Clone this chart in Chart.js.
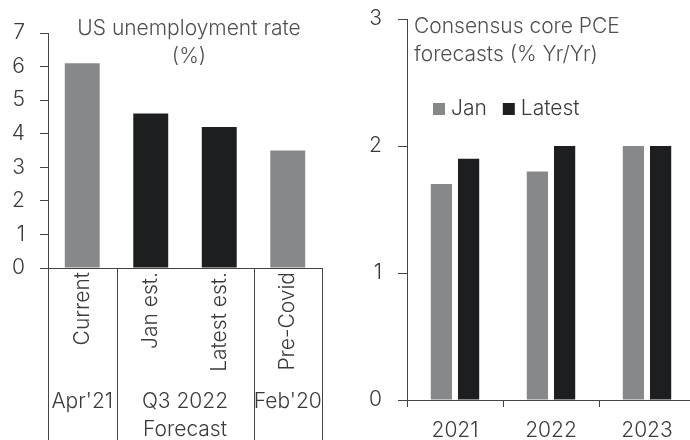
<!DOCTYPE html>
<html>
<head>
<meta charset="utf-8">
<script src="https://cdn.jsdelivr.net/npm/chart.js@4.4.0/dist/chart.umd.min.js"></script>
<style>
  html, body { margin: 0; padding: 0; background: #fff; overflow: hidden; }
  #wrap { position: relative; width: 690px; height: 440px; overflow: hidden; }
  #unemp { position: absolute; left: 0; top: 0; }
  #pce { position: absolute; left: 345px; top: 0; }
</style>
</head>
<body>
<div id="wrap">
  <canvas id="unemp" width="345" height="440"></canvas>
  <canvas id="pce" width="360" height="440"></canvas>
</div>
<script>
// US unemployment rate, %
const unempLabels = ['Current', 'Jan est.', 'Latest est.', 'Pre-Covid'];
const unempValues = [6.1, 4.6, 4.2, 3.5];
const unempGroupLabels = [["Apr'21"], ['Q3 2022', 'Forecast'], ["Feb'20"]];
const unempGroupSizes = [1, 2, 1];
const forecastGroup = 1;

// Consensus core PCE forecasts, % Yr/Yr
const pceYears = ['2021', '2022', '2023'];
const pceJan = [1.7, 1.8, 2.0];
const pceLatest = [1.9, 2.0, 2.0];

const GREY = '#87888a';
const BLACK = '#1d1e20';
const AXIS = '#444444';
const TEXT = '#3a3a3a';
const TITLE = '#505050';
const FAMILY = 'Inter, sans-serif';
const font = { family: FAMILY, size: 21, weight: 300 };
const CSSFONT = `300 21px ${FAMILY}`;

Chart.defaults.font.family = FAMILY;
Chart.defaults.animation = false;

// which group each category falls in
const groupOf = [];
unempGroupSizes.forEach((n, g) => { for (let i = 0; i < n; i++) groupOf.push(g); });

// keep the value axis from pushing the plot down for its top label
const fixedY = width => s => { s.width = width; s.paddingTop = 0; s.paddingBottom = 0; };

const groupPlugin = {
  id: 'groups',
  afterDraw(chart) {
    const { ctx, chartArea, scales: { x } } = chart;
    const half = (x.getPixelForValue(1) - x.getPixelForValue(0)) / 2;
    ctx.save();
    ctx.strokeStyle = AXIS;
    ctx.lineWidth = 1;
    let idx = 0;
    const edges = [0];
    unempGroupSizes.forEach(n => { idx += n; edges.push(idx); });
    edges.forEach(i => {
      const px = Math.round(x.getPixelForValue(i) - half) + 0.5;
      ctx.beginPath();
      ctx.moveTo(px, chartArea.bottom);
      ctx.lineTo(px, chart.height);
      ctx.stroke();
    });
    ctx.fillStyle = TEXT;
    ctx.font = CSSFONT;
    ctx.textAlign = 'center';
    ctx.textBaseline = 'middle';
    unempGroupLabels.forEach((lines, g) => {
      const first = edges[g], last = edges[g + 1] - 1;
      const cx = (x.getPixelForValue(first) + x.getPixelForValue(last)) / 2;
      lines.forEach((t, k) => ctx.fillText(t, cx, 402 + k * 28));
    });
    // title
    ctx.fillStyle = TITLE;
    ctx.fillText('US unemployment rate', 189, 29);
    ctx.fillText('(%)', 189, 57);
    ctx.restore();
  }
};

new Chart(document.getElementById('unemp'), {
  type: 'bar',
  data: {
    labels: unempLabels,
    datasets: [{
      data: unempValues,
      backgroundColor: c => groupOf[c.dataIndex] === forecastGroup ? BLACK : GREY,
      categoryPercentage: 1,
      barPercentage: 0.51
    }]
  },
  options: {
    responsive: false,
    layout: { padding: { top: 33, right: 23, left: 0, bottom: 0 } },
    plugins: { legend: { display: false }, tooltip: { enabled: false } },
    scales: {
      x: {
        grid: { display: true, drawOnChartArea: false, drawTicks: false, color: 'transparent' },
        border: { display: true, color: AXIS, width: 1 },
        ticks: { minRotation: 90, maxRotation: 90, padding: 4, font, color: TEXT, autoSkip: false },
        afterFit: s => { s.height = 172; }
      },
      y: {
        min: 0, max: 7,
        grid: { drawOnChartArea: false, tickLength: 8, color: AXIS },
        border: { color: AXIS, width: 1 },
        ticks: { stepSize: 1, padding: 15, font, color: TEXT },
        afterFit: fixedY(48)
      }
    }
  },
  plugins: [groupPlugin]
});

const pcePlugin = {
  id: 'pceNotes',
  afterDraw(chart) {
    const { ctx } = chart;
    ctx.save();
    ctx.fillStyle = TITLE;
    ctx.font = CSSFONT;
    ctx.textAlign = 'left';
    ctx.textBaseline = 'middle';
    ctx.fillText('Consensus core PCE', 69, 27);
    ctx.fillText('forecasts (% Yr/Yr)', 69, 55);
    // legend built from the datasets
    let lx = 88;
    chart.data.datasets.forEach(ds => {
      ctx.fillStyle = ds.backgroundColor;
      ctx.fillRect(lx, 103, 12, 12);
      ctx.fillStyle = TEXT;
      ctx.fillText(ds.label, lx + 18, 109);
      lx += 18 + ctx.measureText(ds.label).width + 16;
    });
    ctx.restore();
  }
};

new Chart(document.getElementById('pce'), {
  type: 'bar',
  data: {
    labels: pceYears,
    datasets: [
      { label: 'Jan', data: pceJan, backgroundColor: GREY, categoryPercentage: 0.567, barPercentage: 0.78 },
      { label: 'Latest', data: pceLatest, backgroundColor: BLACK, categoryPercentage: 0.567, barPercentage: 0.78 }
    ]
  },
  options: {
    responsive: false,
    layout: { padding: { top: 19, right: 10, left: 0, bottom: 0 } },
    plugins: { legend: { display: false }, tooltip: { enabled: false } },
    scales: {
      x: {
        grid: { offset: true, drawOnChartArea: false, tickLength: 7, color: AXIS },
        border: { color: AXIS, width: 1 },
        ticks: { padding: 11, font, color: TEXT },
        afterFit: s => { s.height = 40; }
      },
      y: {
        min: 0, max: 3,
        grid: { drawOnChartArea: false, tickLength: 9, color: AXIS },
        border: { color: AXIS, width: 1 },
        ticks: { stepSize: 1, padding: 16, font, color: TEXT },
        afterFit: fixedY(62)
      }
    }
  },
  plugins: [pcePlugin]
});
</script>
</body>
</html>
